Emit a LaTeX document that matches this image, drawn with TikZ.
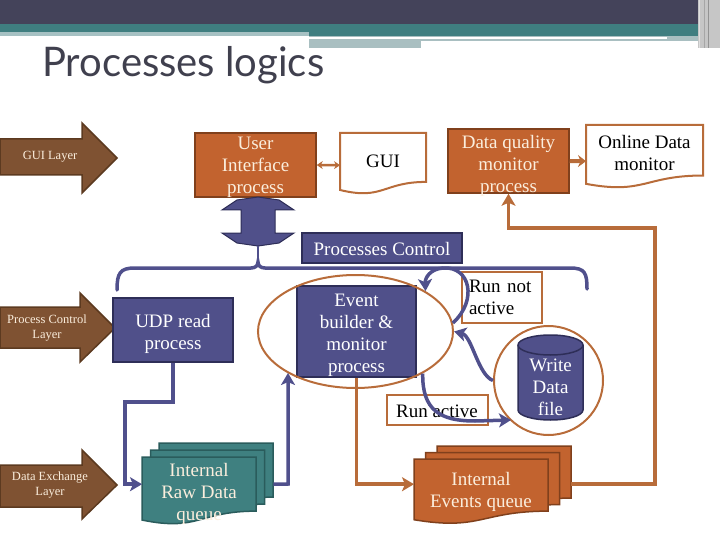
\documentclass[tikz,border=0pt]{standalone}
\usepackage{fontspec}
\setmainfont{Liberation Serif}
\newfontfamily\titlefont{Lato}
\usetikzlibrary{shapes.geometric,arrows.meta}
\definecolor{hdrdark}{HTML}{44435A}
\definecolor{hdrteal}{HTML}{3F7E80}
\definecolor{hdrlight}{HTML}{A6C1C3}
\definecolor{hdrgray}{HTML}{A9BFC1}
\definecolor{orfill}{HTML}{C2632F}
\definecolor{ordraw}{HTML}{80401C}
\definecolor{orline}{HTML}{B86C3A}
\definecolor{blfill}{HTML}{50508A}
\definecolor{bldraw}{HTML}{2E2E58}
\definecolor{blline}{HTML}{50508C}
\definecolor{tlfill}{HTML}{3F8080}
\definecolor{tldraw}{HTML}{2A5C5C}
\definecolor{brfill}{HTML}{7F5232}
\definecolor{brdraw}{HTML}{5C3A20}
\definecolor{cream}{HTML}{FBEEDD}
\definecolor{titlegray}{HTML}{40404E}
\newcommand\docpath[4]{(#1,#2) -- (#3,#2) -- (#3,{#2+0.802*(#4-#2)}) .. controls ({(#1+#3)/2},{#2+0.802*(#4-#2)}) and ({(#1+#3)/2},{#2+1.1075*(#4-#2)}) .. (#1,{#2+0.934*(#4-#2)}) -- cycle}
\begin{document}
\begin{tikzpicture}[x=1pt,y=-1pt,
  mainfont/.style={font=\fontsize{19}{22}\selectfont},
  orbox/.style={draw=ordraw, fill=orfill, line width=1.5pt, inner sep=0pt},
  blbox/.style={draw=bldraw, fill=blfill, line width=1.5pt, inner sep=0pt},
  wbox/.style={draw=orline, fill=white, line width=2pt, text=black, mainfont, inner sep=0pt},
  crtxt/.style={mainfont, text=cream, align=center, inner sep=0pt},
  whtxt/.style={mainfont, text=white, align=center, inner sep=0pt},
  bktxt/.style={mainfont, text=black, align=center, inner sep=0pt},
  geom/.style={draw=none, inner sep=0pt, anchor=north west},
  wdoc/.style={draw=orline, fill=white, line width=2pt},
  tldoc/.style={draw=tldraw, fill=tlfill, line width=1.5pt},
  ordoc/.style={draw=ordraw, fill=orfill, line width=1.5pt},
  layerarrow/.style={draw=brdraw, fill=brfill, line width=1.5pt},
  layertxt/.style={text=cream, align=center, font=\fontsize{12.5}{15}\selectfont, inner sep=0pt},
  blconn/.style={draw=blline, line width=3.5pt},
  orconn/.style={draw=orline, line width=3.5pt},
  blarrow/.style={-{Stealth[length=12pt,width=14pt,inset=3pt]}},
  ring/.style={draw=orline, line width=2pt, inner sep=0pt}
]
\useasboundingbox (0,0) rectangle (720,540);
% header
\fill[hdrdark] (0,0) rectangle (720,24);
\fill[hdrteal] (0,24) rectangle (720,36);
\fill[hdrlight] (0,32) rectangle (309,36);
\fill[hdrgray] (309,36) rectangle (720,48);
\fill[white] (309,37.5) rectangle (667,39.5);
\fill[white] (421,41) rectangle (698,48);
\fill[gray!45] (698,0) rectangle (720,48);
\draw[gray!25, line width=1pt] (699,0) -- (699,48);
\draw[gray!70, line width=1pt] (704,0) -- (704,48);
\draw[gray!85, line width=1pt] (708,0) -- (708,48);
% title
\node[anchor=base west, inner sep=0pt, text=titlegray, font=\titlefont\fontsize{40}{48}\selectfont] (title) at (42,77) {\scalebox{1.0}[1.02]{Processes logics}};
% layer arrows
\draw[layerarrow] (0,139) -- (82,139) -- (82,123) -- (117,158) -- (82,193) -- (82,175) -- (0,175) -- cycle;
\node[layertxt] (lgui) at (50,157) {GUI Layer};
\draw[layerarrow] (0,307) -- (80,307) -- (80,293) -- (115,328) -- (80,362) -- (80,348) -- (0,348) -- cycle;
\node[layertxt] (lpc) at (47,328) {Process Control\\Layer};
\draw[layerarrow] (0,465) -- (82,465) -- (82,450) -- (117,485) -- (82,519) -- (82,507) -- (0,507) -- cycle;
\node[layertxt] (lde) at (50,485.5) {Data Exchange\\Layer};
% GUI layer row
\node[orbox, minimum width=121pt, minimum height=64pt] (ui) at (255.5,165) {};
\node[crtxt] (uitxt) at (255.5,167.5) {User\\Interface\\process};
\draw[wdoc] \docpath{340}{133}{426}{194};
\node[geom, minimum width=86pt, minimum height=64pt] (gui) at (340,133) {};
\node[bktxt] (guitxt) at (383,161.5) {GUI};
\draw[draw=orline, line width=2.5pt, {Stealth[length=6pt,width=8pt]}-{Stealth[length=6pt,width=8pt]}] (ui.east) -- (gui.west);
\node[orbox, minimum width=121pt, minimum height=64pt] (dq) at (508.5,161) {};
\node[crtxt] (dqtxt) at (508.5,165.5) {Data quality\\monitor\\process};
\draw[wdoc] \docpath{586}{125}{703}{188};
\node[geom, minimum width=117pt, minimum height=72pt] (odm) at (586,125) {};
\node[bktxt] (odmtxt) at (644.5,153.5) {Online Data\\monitor};
\draw[draw=orline, line width=4pt, -{Stealth[length=8pt,width=12pt]}] (dq.east) -- (odm.west);
% big double arrow and brace
\draw[fill=blfill, draw=bldraw, line width=1pt] (258,197) -- (279,200) -- (294,210) -- (275,210) -- (275,233) -- (294,233) -- (279,243) -- (258,246) -- (237,243) -- (222,233) -- (241,233) -- (241,210) -- (222,210) -- (237,200) -- cycle;
\coordinate (bigtip) at (258,246);
\coordinate (cusp) at (258,262);
\draw[blline, line width=2pt] (bigtip) -- (cusp);
\draw[blline, line width=3.5pt, line cap=round] (117,290) .. controls (117,273) and (120,268) .. (135,268) -- (251,268) .. controls (255,268) and (258,266) .. (cusp) .. controls (258,266) and (261,268) .. (265,268) -- (570,268) .. controls (585,268) and (587,273) .. (587,289);
\node[blbox, minimum width=160pt, minimum height=30pt] (pc) at (382,248) {};
\node[whtxt] (pctxt) at (382,249) {Processes Control};
% process control row
\node[blbox, minimum width=120pt, minimum height=64pt] (udp) at (173,330) {};
\node[whtxt] (udptxt) at (173,333.5) {UDP read\\process};
\node[blbox, minimum width=119pt, minimum height=91pt] (eb) at (356.5,331.5) {};
\node[whtxt] (ebtxt) at (356.5,335) {Event\\builder \&\\monitor\\process};
\node[ring, ellipse, minimum width=195pt, minimum height=113pt] (ebring) at (355.5,331.5) {};
\node[wbox, minimum width=80pt, minimum height=51pt, text width=66pt, inner xsep=7pt, align=left] (rna) at (502,297) {Run not\\active};
\node[wbox, minimum width=101pt, minimum height=30pt, align=center] (ra) at (437.5,410) {};
\node[bktxt] (ratxt) at (437,411.5) {Run active};
% cylinder
\draw[fill=blfill, draw=bldraw, line width=1.5pt] (518,345) -- (518,410) arc[start angle=180, end angle=360, x radius=32.5pt, y radius=10pt] -- (583,345) arc[start angle=0, end angle=180, x radius=32.5pt, y radius=10pt] -- cycle;
\draw[draw=bldraw, line width=1.5pt] (518,345) arc[start angle=180, end angle=360, x radius=32.5pt, y radius=10pt];
\node[whtxt] (wdf) at (550.5,387) {Write\\Data\\file};
\node[ring, circle, minimum size=109pt] (wring) at (548.5,380.5) {};
% blue curves
\draw[blconn, blarrow] (ebring.-32) .. controls (422,410) and (440,421) .. (475,421) -- (511,420);
\draw[blconn, blarrow] (wring.west) .. controls (478,375) and (472,336) .. (ebring.east);
\draw[blconn, blarrow] (ebring.5) .. controls (478,300) and (470,266) .. (443,268) .. controls (430,269) and (425,278) .. (ebring.30);
% queues
\draw[tldoc] \docpath{159}{443}{273}{510.5};
\draw[tldoc] \docpath{150.5}{450}{264.5}{517.5};
\draw[tldoc] \docpath{142}{457}{256}{524.5};
\node[geom, minimum width=131pt, minimum height=54pt] (rawq) at (142,457) {};
\node[crtxt] (rawqtxt) at (199,493.5) {Internal\\Raw Data\\queue};
\draw[ordoc] \docpath{437}{446}{571}{511};
\draw[ordoc] \docpath{425.5}{452.5}{559.5}{517.5};
\draw[ordoc] \docpath{414}{459}{548}{524};
\node[geom, minimum width=157pt, minimum height=50pt] (evq) at (414,459) {};
\node[crtxt] (evqtxt) at (481,492) {Internal\\Events queue};
% connectors
\coordinate (c1) at (125,402);
\draw[blconn, blarrow] (udp.south) |- (c1) |- (rawq.west);
\coordinate (c3) at (288,484);
\coordinate (c4) at (288,373);
\draw[blconn, blarrow] (rawq.east) -- (c3) -- (c4);
\draw[orconn, blarrow] (eb.south) |- (evq.west);
\coordinate (c5) at (655,228);
\draw[orconn, blarrow] (evq.east) -| (c5) -| (dq.south);
\end{tikzpicture}
\end{document}
